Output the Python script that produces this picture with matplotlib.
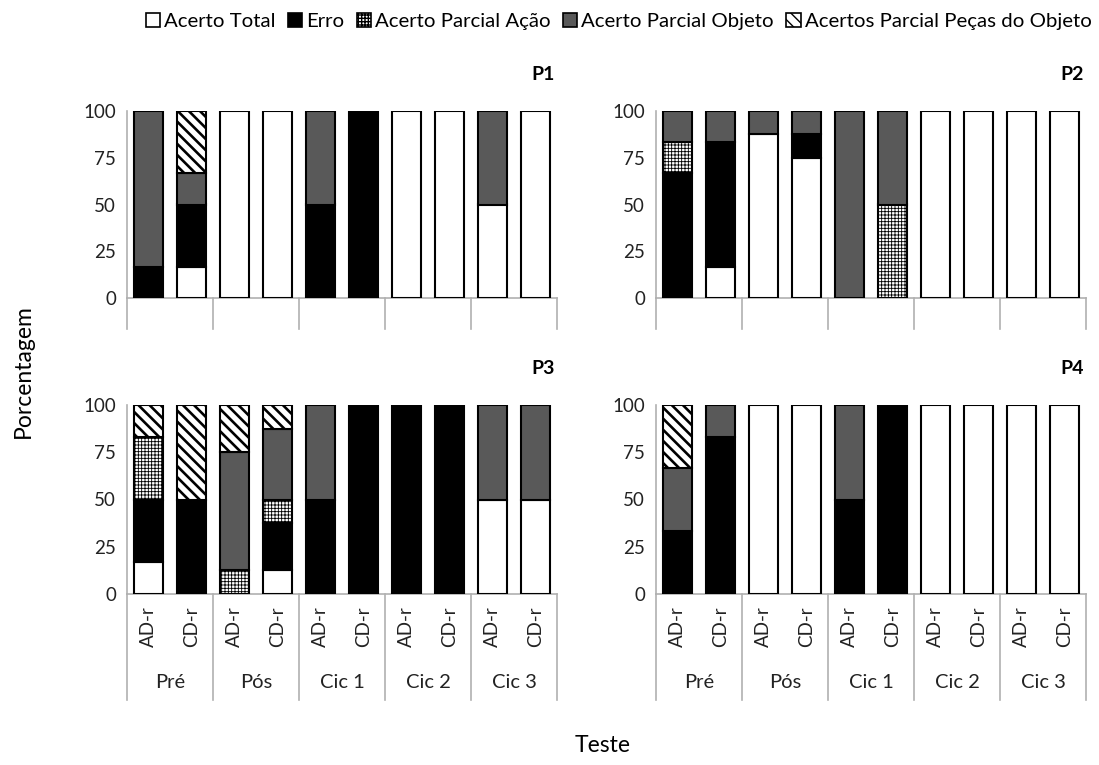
import numpy as np
import matplotlib
matplotlib.use("Agg")
import matplotlib.pyplot as plt
from matplotlib.patches import Patch
from matplotlib.transforms import blended_transform_factory

plt.rcParams['font.family'] = ['Lato', 'DejaVu Sans']

# categories
groups = ['Pré', 'Pós', 'Cic 1', 'Cic 2', 'Cic 3']
conditions = ['AD-r', 'CD-r']
series_names = ['Acerto Total', 'Erro', 'Acerto Parcial Ação',
                'Acerto Parcial Objeto', 'Acertos Parcial Peças do Objeto']

# P1 (% per bar: Pré AD, Pré CD, Pós AD, Pós CD, Cic1 AD, Cic1 CD, ...)
p1_total = [0, 16.7, 100, 100, 0, 0, 100, 100, 50, 100]
p1_erro = [16.7, 33.3, 0, 0, 50, 100, 0, 0, 0, 0]
p1_acao = [0, 0, 0, 0, 0, 0, 0, 0, 0, 0]
p1_objeto = [83.3, 16.7, 0, 0, 50, 0, 0, 0, 50, 0]
p1_pecas = [0, 33.3, 0, 0, 0, 0, 0, 0, 0, 0]

# P2
p2_total = [0, 16.7, 87.5, 75, 0, 0, 100, 100, 100, 100]
p2_erro = [66.7, 66.7, 0, 12.5, 0, 0, 0, 0, 0, 0]
p2_acao = [16.7, 0, 0, 0, 0, 50, 0, 0, 0, 0]
p2_objeto = [16.6, 16.6, 12.5, 12.5, 100, 50, 0, 0, 0, 0]
p2_pecas = [0, 0, 0, 0, 0, 0, 0, 0, 0, 0]

# P3
p3_total = [16.7, 0, 0, 12.5, 0, 0, 0, 0, 50, 50]
p3_erro = [33.3, 50, 0, 25, 50, 100, 100, 100, 0, 0]
p3_acao = [33.3, 0, 12.5, 12.5, 0, 0, 0, 0, 0, 0]
p3_objeto = [0, 0, 62.5, 37.5, 50, 0, 0, 0, 50, 50]
p3_pecas = [16.7, 50, 25, 12.5, 0, 0, 0, 0, 0, 0]

# P4
p4_total = [0, 0, 100, 100, 0, 0, 100, 100, 100, 100]
p4_erro = [33.3, 83.3, 0, 0, 50, 100, 0, 0, 0, 0]
p4_acao = [0, 0, 0, 0, 0, 0, 0, 0, 0, 0]
p4_objeto = [33.3, 16.7, 0, 0, 50, 0, 0, 0, 0, 0]
p4_pecas = [33.3, 0, 0, 0, 0, 0, 0, 0, 0, 0]

panels = {
    'P1': [p1_total, p1_erro, p1_acao, p1_objeto, p1_pecas],
    'P2': [p2_total, p2_erro, p2_acao, p2_objeto, p2_pecas],
    'P3': [p3_total, p3_erro, p3_acao, p3_objeto, p3_pecas],
    'P4': [p4_total, p4_erro, p4_acao, p4_objeto, p4_pecas],
}

# fill / hatch per series
styles = [
    dict(facecolor='white', hatch=None),
    dict(facecolor='black', hatch=None),
    dict(facecolor='white', hatch='+++++'),
    dict(facecolor='#595959', hatch=None),
    dict(facecolor='white', hatch='\\\\\\'),
]
hatch_lw = [0, 0, 0.6, 0, 1.9]
axis_gray = '#b0b0b0'
text_col = '#222222'

fig = plt.figure(figsize=(10.99, 7.65), dpi=100)

W, H = 1099, 765
# pixel boxes: (left, right, y of 100, y of 0)
boxes = {
    'P1': (127, 557, 111, 298),
    'P2': (656, 1086, 111, 298),
    'P3': (127, 557, 405, 594),
    'P4': (656, 1086, 405, 594),
}
box_bottom = {'P1': 329, 'P2': 329, 'P3': 700, 'P4': 700}

n = len(groups) * len(conditions)
x = np.arange(n)
bar_w = 0.68

for name, data in panels.items():
    l, r, t, b = boxes[name]
    ax = fig.add_axes([l / W, 1 - b / H, (r - l) / W, (b - t) / H])
    bottom = np.zeros(n)
    for vals, st, hlw in zip(data, styles, hatch_lw):
        h = np.array(vals, dtype=float)
        keep = h > 0
        bars = ax.bar(x[keep], h[keep], bottom=bottom[keep], width=bar_w,
                      facecolor=st['facecolor'], hatch=st['hatch'],
                      edgecolor='black', linewidth=1.5, zorder=3)
        if hlw:
            for p in bars.patches:
                if hasattr(p, 'set_hatch_linewidth'):
                    p.set_hatch_linewidth(hlw)
        bottom += h

    ax.set_xlim(-0.5, n - 0.5)
    ax.set_ylim(0, 100)
    ax.set_yticks([0, 25, 50, 75, 100])
    ax.tick_params(axis='y', length=0, labelsize=13.5, pad=8, colors=text_col)
    for s in ['top', 'right']:
        ax.spines[s].set_visible(False)
    for s in ['left', 'bottom']:
        ax.spines[s].set_color(axis_gray)
        ax.spines[s].set_linewidth(1.2)

    # category box below the axis
    depth = (box_bottom[name] - b) / (b - t)
    trans = blended_transform_factory(ax.transData, ax.transAxes)
    for k in range(len(groups) + 1):
        ax.plot([k * 2 - 0.5, k * 2 - 0.5], [0, -depth], color=axis_gray,
                lw=1.2, transform=trans, clip_on=False)

    if name in ('P3', 'P4'):
        ax.set_xticks(x)
        ax.set_xticklabels(conditions * len(groups), rotation=90,
                           fontsize=13.5, color=text_col)
        ax.tick_params(axis='x', length=0, pad=9)
        for gi, g in enumerate(groups):
            ax.text(gi * 2 + 0.5, -0.47, g, transform=trans, ha='center',
                    va='center', fontsize=14.5, color=text_col)
    else:
        ax.set_xticks([])

    ax.annotate(name, xy=(1, 1), xycoords='axes fraction', xytext=(-2, 36),
                textcoords='offset pixels', ha='right', va='center',
                fontsize=14, fontweight='bold')

handles = []
for st, hlw in zip(styles, hatch_lw):
    p = Patch(facecolor=st['facecolor'], hatch=st['hatch'], edgecolor='black',
              linewidth=1.2)
    if hlw and hasattr(p, 'set_hatch_linewidth'):
        p.set_hatch_linewidth(min(hlw, 1.0))
    handles.append(p)

fig.legend(handles, series_names, loc='center', bbox_to_anchor=(0.563, 0.972),
           ncol=5, frameon=False, fontsize=14.7, handlelength=0.7,
           handleheight=0.7, handletextpad=0.2, columnspacing=0.6,
           borderaxespad=0)

fig.text(0.021, 0.515, 'Porcentagem', rotation=90, ha='center', va='center',
         fontsize=16.5)
fig.text(0.548, 0.026, 'Teste', ha='center', va='center', fontsize=16.5)

fig.savefig('out.png', dpi=100)
